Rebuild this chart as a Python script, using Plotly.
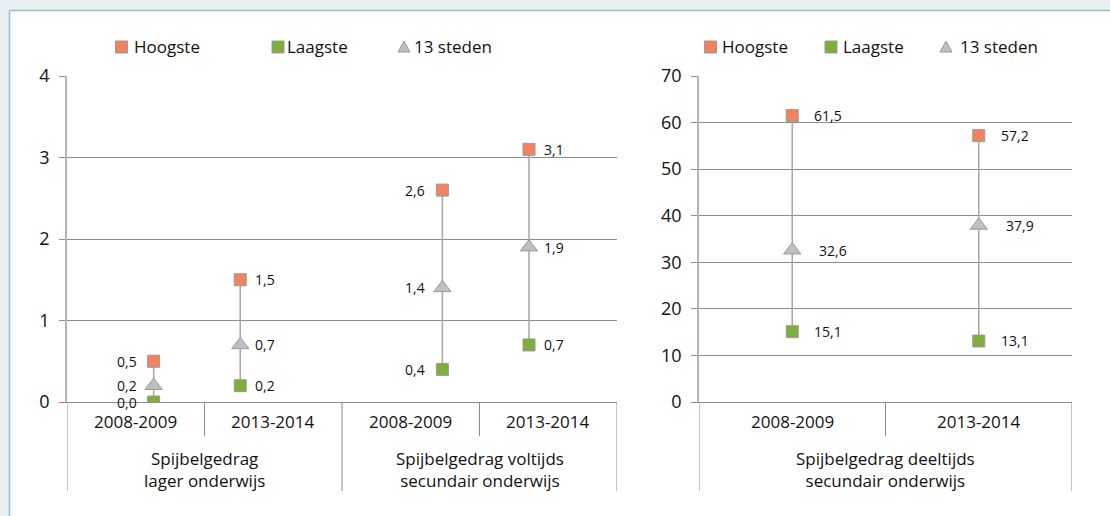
import plotly.graph_objects as go

W, H = 1110, 516

# ---------------- data ----------------
years = ["2008-2009", "2013-2014"]
groups_left = ["Spijbelgedrag<br>lager onderwijs", "Spijbelgedrag voltijds<br>secundair onderwijs"]
group_right = "Spijbelgedrag deeltijds<br>secundair onderwijs"
series_names = ["Hoogste", "Laagste", "13 steden"]

left_pos = [0.63, 1.26, 2.73, 3.36]
left_high = [0.5, 1.5, 2.6, 3.1]
left_low = [0.0, 0.2, 0.4, 0.7]
left_mid = [0.2, 0.7, 1.4, 1.9]
left_label_side = ["left", "right", "left", "right"]
left_ticks = [0, 1, 2, 3, 4]

right_pos = [0.5, 1.5]
right_high = [61.5, 57.2]
right_low = [15.1, 13.1]
right_mid = [32.6, 37.9]
right_ticks = [0, 10, 20, 30, 40, 50, 60, 70]

# ---------------- styles ----------------
FONT = "Open Sans"
TXT = "#111111"
ORANGE = "#f3825f"
GREEN = "#7fae3b"
TRI = "#bfbfbf"
EDGE = "#9a9a9a"
GRID = "#8c8c8c"
AXIS = "#b5b5b5"
HL = "#a6a6a6"
PAGE = "#e9eef1"


def py(p):
    return 1 - p / H


def px(p):
    return p / W


def fmt(v):
    return f"{v:.1f}".replace(".", ",")


fig = go.Figure()


def add_panel(pos, high, low, mid, xa, ya):
    lx, ly = [], []
    for x, lo, hi in zip(pos, low, high):
        lx += [x, x, None]
        ly += [lo, hi, None]
    fig.add_trace(go.Scatter(x=lx, y=ly, mode="lines", line=dict(color=HL, width=1.5),
                             xaxis=xa, yaxis=ya, showlegend=False, hoverinfo="skip"))
    fig.add_trace(go.Scatter(x=pos, y=mid, mode="markers", name=series_names[2],
                             marker=dict(symbol="triangle-up", size=15, color=TRI,
                                         line=dict(color=EDGE, width=1)),
                             xaxis=xa, yaxis=ya, showlegend=False, hoverinfo="skip"))
    fig.add_trace(go.Scatter(x=pos, y=low, mode="markers", name=series_names[1],
                             marker=dict(symbol="square", size=12, color=GREEN,
                                         line=dict(color=EDGE, width=1)),
                             xaxis=xa, yaxis=ya, showlegend=False, hoverinfo="skip"))
    fig.add_trace(go.Scatter(x=pos, y=high, mode="markers", name=series_names[0],
                             marker=dict(symbol="square", size=12, color=ORANGE,
                                         line=dict(color=EDGE, width=1)),
                             xaxis=xa, yaxis=ya, showlegend=False, hoverinfo="skip"))


add_panel(left_pos, left_high, left_low, left_mid, "x", "y")
add_panel(right_pos, right_high, right_low, right_mid, "x2", "y2")

annotations = []
shapes = []

# white panel with blue border
shapes.append(dict(type="rect", xref="paper", yref="paper", x0=px(9.5), x1=1.05,
                   y0=-0.05, y1=py(10.5), line=dict(color="#8fc0d8", width=1.5),
                   fillcolor="white", layer="below"))

# data labels
for i, x in enumerate(left_pos):
    side = left_label_side[i]
    for v in (left_high[i], left_low[i], left_mid[i]):
        annotations.append(dict(x=x, y=v, xref="x", yref="y", text=fmt(v), showarrow=False,
                                xanchor="left" if side == "right" else "right", yanchor="middle",
                                xshift=13 if side == "right" else -15,
                                font=dict(family=FONT, size=14, color=TXT)))
for i, x in enumerate(right_pos):
    for v, sh in ((right_high[i], 20), (right_low[i], 20), (right_mid[i], 25)):
        annotations.append(dict(x=x, y=v, xref="x2", yref="y2", text=fmt(v), showarrow=False,
                                xanchor="left", yanchor="middle", xshift=sh,
                                font=dict(family=FONT, size=14, color=TXT)))

# category labels and dividers
cat_font = dict(family=FONT, size=17, color=TXT)
for g in range(2):
    for k, yr in enumerate(years):
        annotations.append(dict(x=2 * g + k + 0.5, y=py(421), xref="x", yref="paper", text=yr,
                                showarrow=False, xanchor="center", yanchor="middle", font=cat_font))
    annotations.append(dict(x=2 * g + 1, y=py(469), xref="x", yref="paper", text=groups_left[g],
                            showarrow=False, xanchor="center", yanchor="middle", font=cat_font))
for k, yr in enumerate(years):
    annotations.append(dict(x=k + 0.5, y=py(421), xref="x2", yref="paper", text=yr,
                            showarrow=False, xanchor="center", yanchor="middle", font=cat_font))
annotations.append(dict(x=1, y=py(469), xref="x2", yref="paper", text=group_right,
                        showarrow=False, xanchor="center", yanchor="middle", font=cat_font))

for b in range(5):
    bottom = 491 if b % 2 == 0 else 436
    shapes.append(dict(type="line", xref="x", yref="paper", x0=b, x1=b, y0=py(402), y1=py(bottom),
                       line=dict(color=GRID, width=1)))
for b in range(3):
    bottom = 491 if b % 2 == 0 else 436
    shapes.append(dict(type="line", xref="x2", yref="paper", x0=b, x1=b, y0=py(402), y1=py(bottom),
                       line=dict(color=GRID, width=1)))

# legends (two, one per panel)
legend_sets = [
    [(121.5, 132), (278, 285), (404, 412)],
    [(710.5, 720), (831, 841), (946, 958)],
]
leg_colors = [ORANGE, GREEN, TRI]
LY = 47
for items in legend_sets:
    for (cx, tx), name, col in zip(items, series_names, leg_colors):
        if name == series_names[2]:
            path = (f"M {px(cx - 6)} {py(LY + 5)} L {px(cx + 6)} {py(LY + 5)} "
                    f"L {px(cx)} {py(LY - 6)} Z")
            shapes.append(dict(type="path", xref="paper", yref="paper", path=path,
                               fillcolor=col, line=dict(color=EDGE, width=1)))
        else:
            shapes.append(dict(type="rect", xref="paper", yref="paper",
                               x0=px(cx - 6), x1=px(cx + 6), y0=py(LY + 6), y1=py(LY - 6),
                               fillcolor=col, line=dict(color=EDGE, width=1)))
        annotations.append(dict(x=px(tx), y=py(LY), xref="paper", yref="paper", text=name,
                                xanchor="left", yanchor="middle", showarrow=False,
                                font=dict(family=FONT, size=17, color=TXT)))

ydom = [py(402), py(76)]
yax_common = dict(domain=ydom, showline=True, linecolor=AXIS, linewidth=1.5,
                  ticks="outside", ticklen=6, tickcolor=GRID, tickwidth=1,
                  showgrid=True, gridcolor=GRID, gridwidth=1, zeroline=False,
                  tickfont=dict(family=FONT, size=18, color=TXT), ticklabelstandoff=6,
                  fixedrange=True, automargin=False)
xax_common = dict(showline=True, linecolor=GRID, linewidth=1, showgrid=False, zeroline=False,
                  showticklabels=False, ticks="", fixedrange=True, automargin=False)

fig.update_layout(
    width=W, height=H,
    margin=dict(l=0, r=0, t=0, b=0, pad=0),
    paper_bgcolor=PAGE,
    plot_bgcolor="white",
    showlegend=False,
    xaxis=dict(domain=[px(67), px(617)], range=[0, 4], anchor="y", **xax_common),
    yaxis=dict(range=[0, 4], tickvals=left_ticks, anchor="x", **yax_common),
    xaxis2=dict(domain=[px(699), px(1072)], range=[0, 2], anchor="y2", **xax_common),
    yaxis2=dict(range=[0, 70], tickvals=right_ticks, anchor="x2", **yax_common),
    shapes=shapes,
    annotations=annotations,
    font=dict(family=FONT, color=TXT),
)

fig.write_html(
    "out.html",
    config={"displayModeBar": False},
    post_script=f"document.body.style.margin='0';document.body.style.background='{PAGE}';",
)
